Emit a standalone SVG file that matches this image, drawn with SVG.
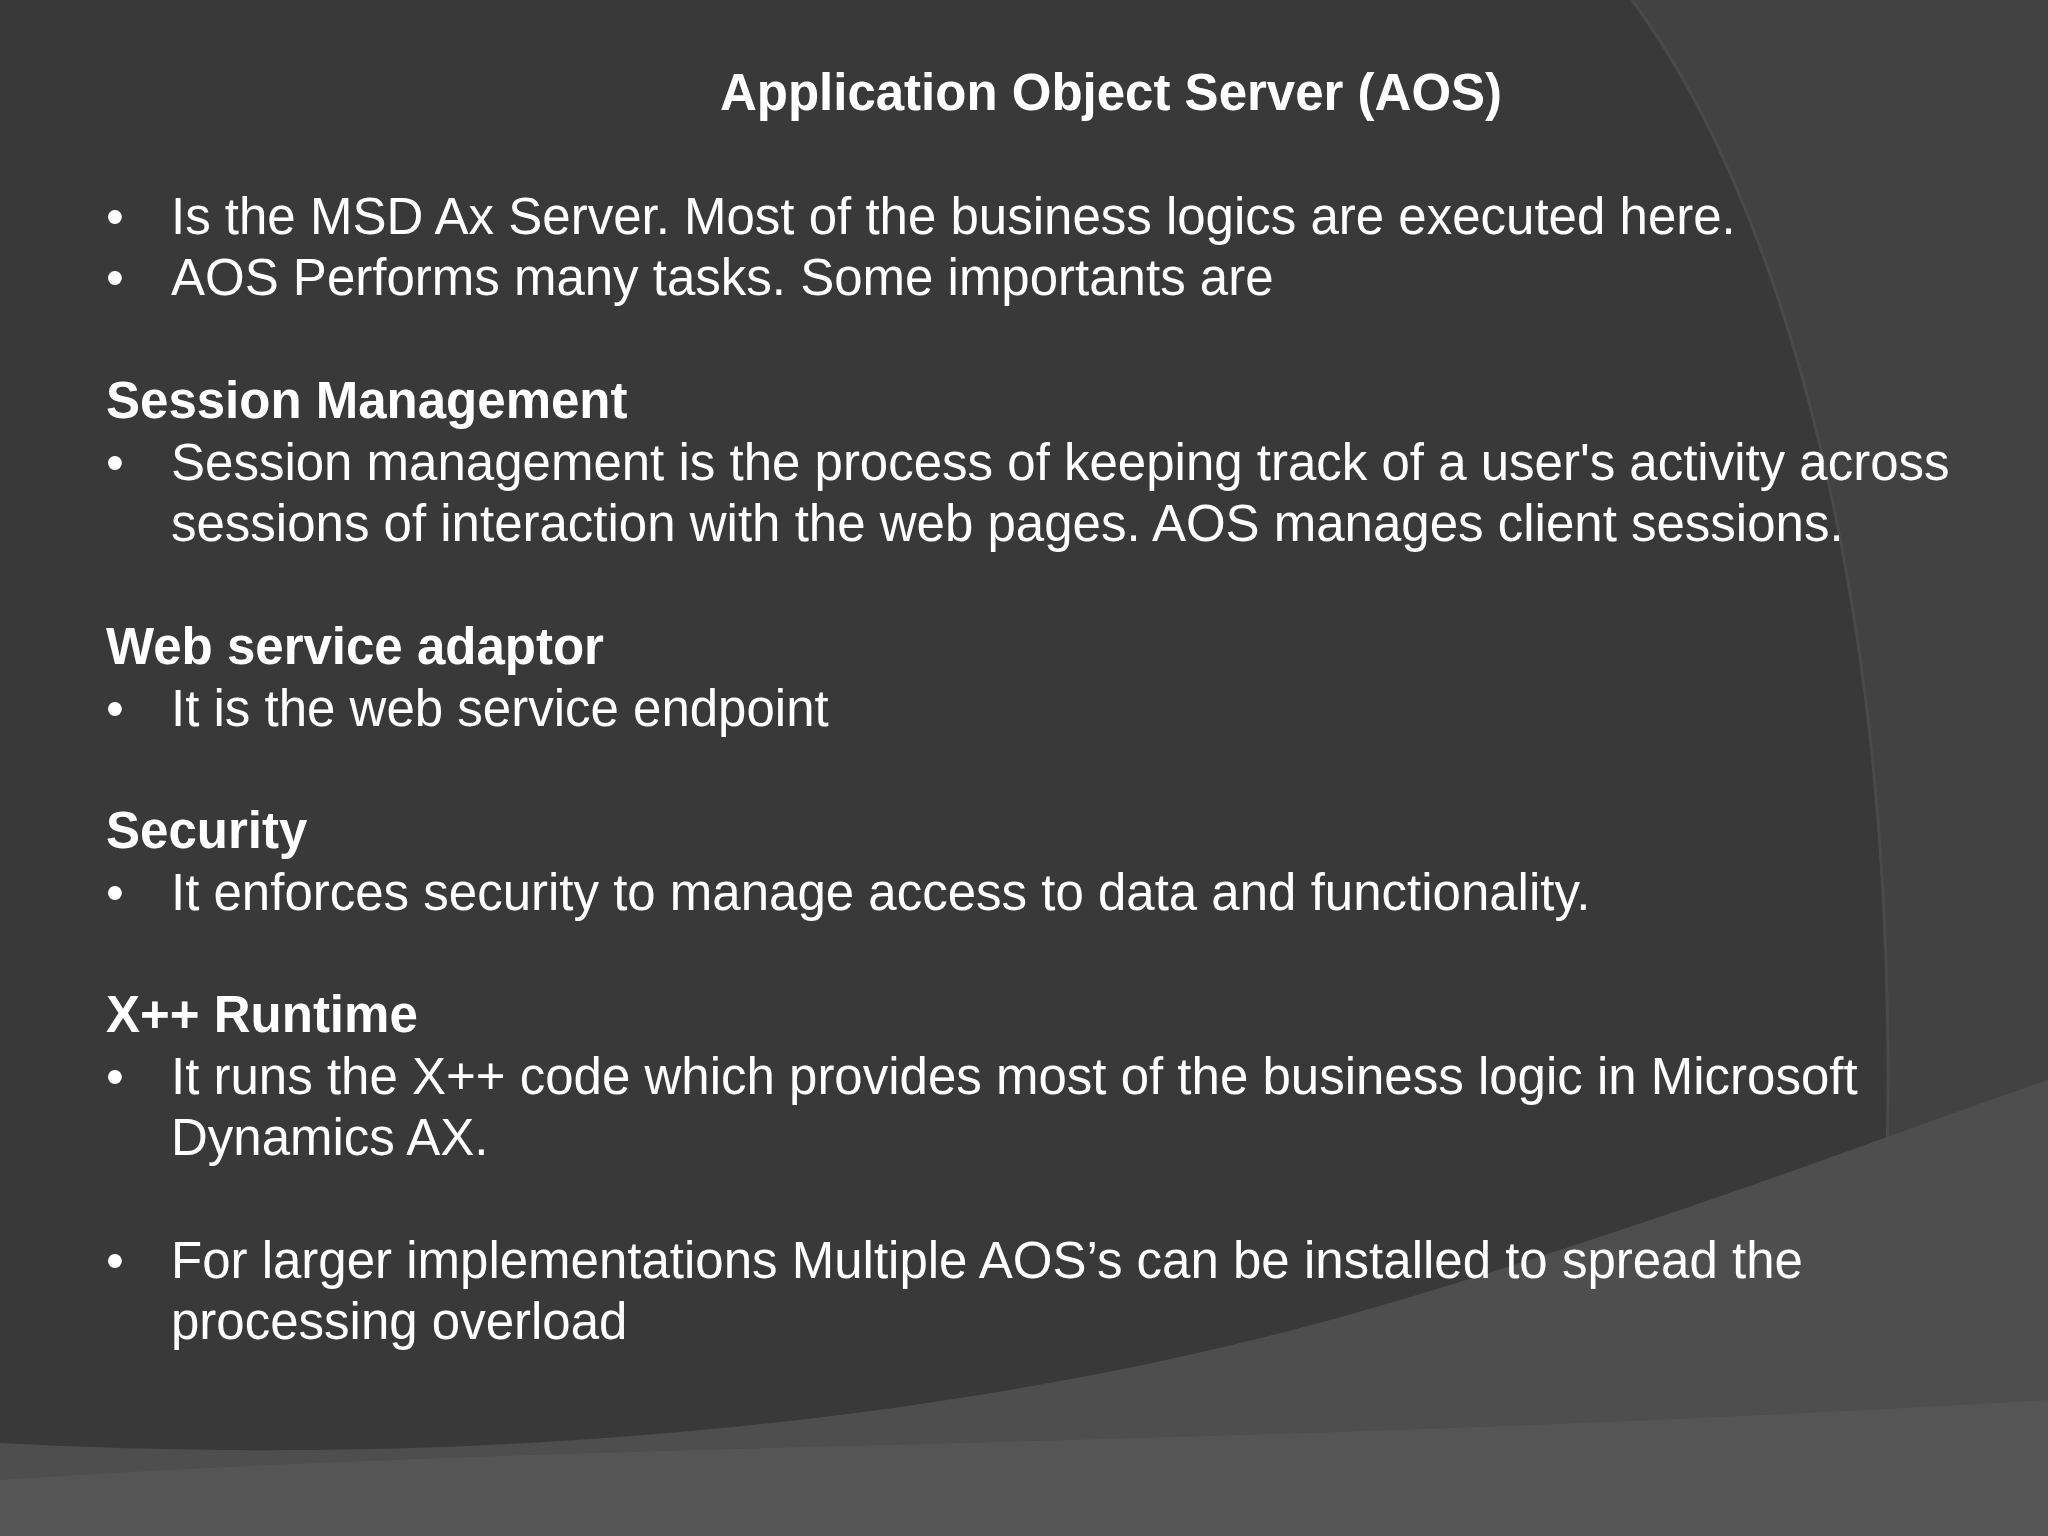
<svg xmlns="http://www.w3.org/2000/svg" width="2048" height="1536" viewBox="0 0 2048 1536">
<style>
text{font-family:"Liberation Sans",Arial,sans-serif;fill:#fff;font-size:51px}
.h{font-weight:bold}
.t{font-weight:bold;font-size:51px}
</style>
<rect width="2048" height="1536" fill="#393939"/>
<path d="M1632 0 C1780 200 1900 600 1887 1160 L2048 1100 L2048 0 Z" fill="#424242"/>
<path d="M1632 0 C1780 200 1900 600 1887 1160" fill="none" stroke="#4a4a4a" stroke-width="3"/>
<path d="M0 1443 C500 1470 1000 1420 1400 1300 C1700 1210 1900 1130 2048 1080 L2048 1536 L0 1536 Z" fill="#4e4e4e"/>
<path d="M0 1480 C600 1440 1200 1450 2048 1400 L2048 1536 L0 1536 Z" fill="#555"/>
<g id="content">
<text class="t" x="1111" y="110" text-anchor="middle">Application Object Server (AOS)</text>
<text x="106" y="234">•</text><text x="171" y="234">Is the MSD Ax Server. Most of the business logics are executed here.</text>
<text x="106" y="295">•</text><text x="171" y="295">AOS Performs many tasks. Some importants are</text>
<text class="h" x="106" y="418">Session Management</text>
<text x="106" y="480">•</text><text x="171" y="480">Session management is the process of keeping track of a user's activity across</text>
<text x="171" y="541">sessions of interaction with the web pages. AOS manages client sessions.</text>
<text class="h" x="106" y="664">Web service adaptor</text>
<text x="106" y="726">•</text><text x="171" y="726">It is the web service endpoint</text>
<text class="h" x="106" y="848">Security</text>
<text x="106" y="910">•</text><text x="171" y="910">It enforces security to manage access to data and functionality.</text>
<text class="h" x="106" y="1032">X++ Runtime</text>
<text x="106" y="1094">•</text><text x="171" y="1094">It runs the X++ code which provides most of the business logic in Microsoft</text>
<text x="171" y="1155">Dynamics AX.</text>
<text x="106" y="1278">•</text><text x="171" y="1278">For larger implementations Multiple AOS’s can be installed to spread the</text>
<text x="171" y="1339">processing overload</text>
</g>
</svg>
